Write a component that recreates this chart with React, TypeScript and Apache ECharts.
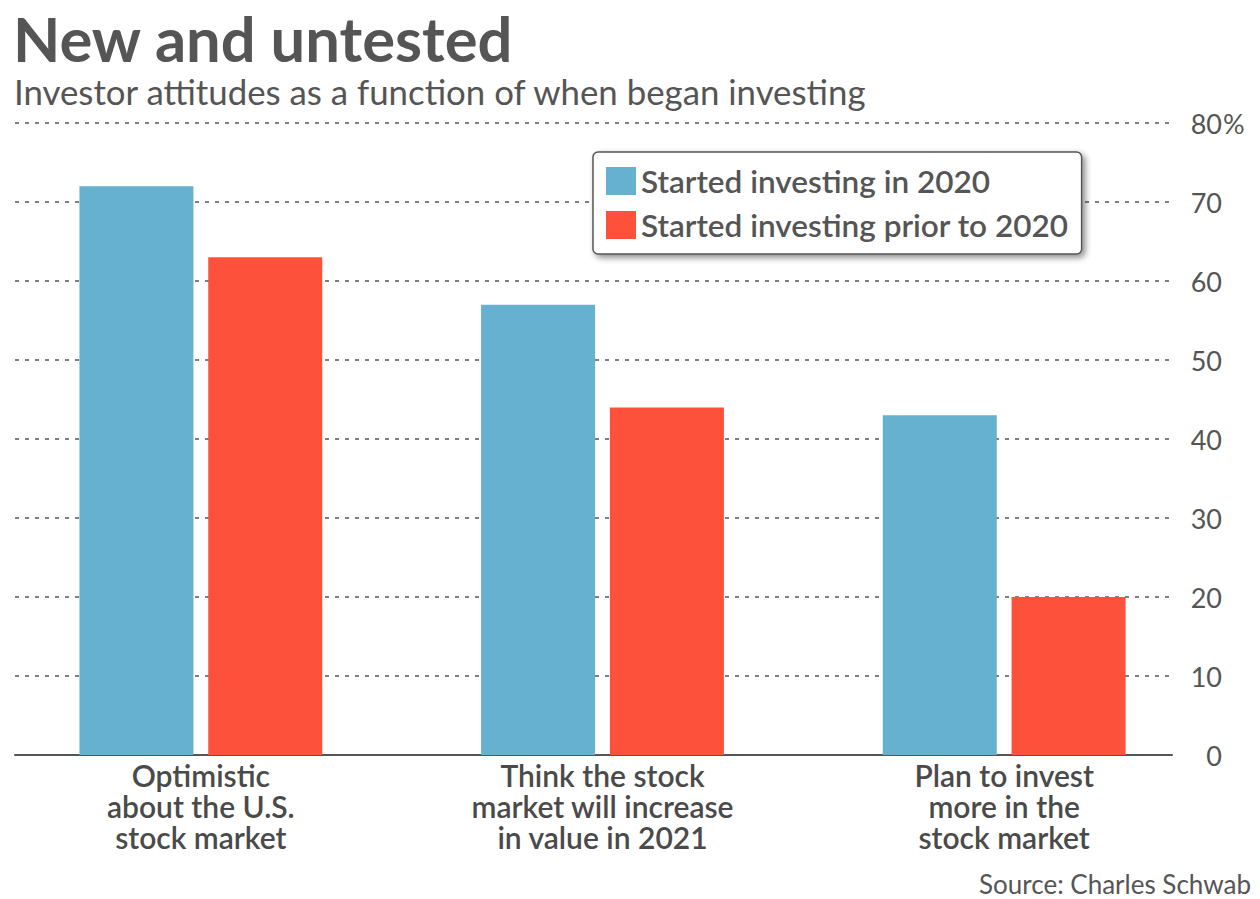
import React, { useEffect, useRef } from "react";
import * as echarts from "echarts";

const categories = [
  "Optimistic\nabout the U.S.\nstock market",
  "Think the stock\nmarket will increase\nin value in 2021",
  "Plan to invest\nmore in the\nstock market",
];
const seriesNames = ["Started investing in 2020", "Started investing prior to 2020"];
const started2020 = [72, 57, 43];
const priorTo2020 = [63, 44, 20];
const yMin = 0;
const yMax = 80;
const yInterval = 10;

const titleText = "New and untested";
const subtitleText = "Investor attitudes as a function of when began investing";
const sourceText = "Source: Charles Schwab";

const TEXT = "#555555";
const BLUE = "#67b1d0";
const RED = "#fd513b";

export default function App() {
  const ref = useRef<HTMLDivElement>(null);
  useEffect(() => {
    if (!ref.current) return;
    const chart = echarts.init(ref.current, null, { renderer: "svg" });
    chart.setOption({
      animation: false,
      title: [
        {
          text: titleText,
          left: 8,
          top: 2,
          textStyle: { fontFamily: "Lato", fontWeight: "bold", fontSize: 61.5, color: TEXT },
        },
        {
          text: subtitleText,
          left: 9,
          top: 69,
          textStyle: { fontFamily: "Lato", fontWeight: "normal", fontSize: 34.8, color: TEXT },
        },
        {
          text: sourceText,
          right: 4,
          top: 866,
          textStyle: { fontFamily: "Lato", fontWeight: "normal", fontSize: 26, color: TEXT },
        },
      ],
      legend: {
        orient: "vertical",
        left: 593,
        top: 152,
        padding: [13, 13, 13, 13],
        itemGap: 12,
        itemWidth: 30,
        itemHeight: 28,
        icon: "rect",
        backgroundColor: "#ffffff",
        borderColor: "#555555",
        borderWidth: 1.5,
        borderRadius: 5,
        shadowBlur: 6,
        shadowColor: "rgba(0,0,0,0.45)",
        shadowOffsetX: 3,
        shadowOffsetY: 3,
        textStyle: { fontFamily: "Lato", fontWeight: 600, fontSize: 31.5, color: TEXT },
        data: seriesNames,
      },
      grid: [
        { left: 15, right: 88, top: 123, bottom: 144 },
        { left: -5, right: 55, top: 123, bottom: 144 },
      ],
      xAxis: [
        {
          gridIndex: 0,
          type: "category",
          data: categories,
          axisLine: { show: true, lineStyle: { color: "#555555", width: 2 } },
          axisTick: { show: false },
          axisLabel: { show: false },
          splitLine: { show: false },
        },
        {
          gridIndex: 1,
          type: "category",
          data: categories,
          axisLine: { show: false },
          axisTick: { show: false },
          splitLine: { show: false },
          axisLabel: {
            margin: 4,
            fontFamily: "Lato",
            fontWeight: 600,
            fontSize: 30,
            lineHeight: 31,
            color: "#4a4a4a",
            interval: 0,
          },
        },
      ],
      yAxis: [
        {
          gridIndex: 0,
          type: "value",
          position: "right",
          min: yMin,
          max: yMax,
          interval: yInterval,
          axisLine: { show: false },
          axisTick: { show: false },
          splitLine: { show: true, lineStyle: { color: "#555555", width: 1.5, type: [4, 6] } },
          axisLabel: {
            align: "right",
            margin: 50,
            fontFamily: "Lato",
            fontSize: 27,
            color: TEXT,
          },
        },
        {
          gridIndex: 1,
          type: "value",
          min: yMin,
          max: yMax,
          show: false,
          splitLine: { show: false },
        },
      ],
      graphic: [
        {
          type: "text",
          x: 1223,
          y: 123,
          style: {
            text: "%",
            fontFamily: "Lato",
            fontSize: 27,
            fill: TEXT,
            verticalAlign: "middle",
          },
        },
      ],
      series: [
        {
          name: seriesNames[0],
          type: "bar",
          xAxisIndex: 1,
          yAxisIndex: 1,
          data: started2020,
          barWidth: 114,
          barGap: "13%",
          itemStyle: { color: BLUE },
        },
        {
          name: seriesNames[1],
          type: "bar",
          xAxisIndex: 1,
          yAxisIndex: 1,
          data: priorTo2020,
          barWidth: 114,
          barGap: "13%",
          itemStyle: { color: RED },
        },
      ],
    });
    return () => chart.dispose();
  }, []);
  return (
    <div
      ref={ref}
      style={{ position: "absolute", left: 0, top: 0, width: 1260, height: 899, background: "#fff" }}
    />
  );
}
